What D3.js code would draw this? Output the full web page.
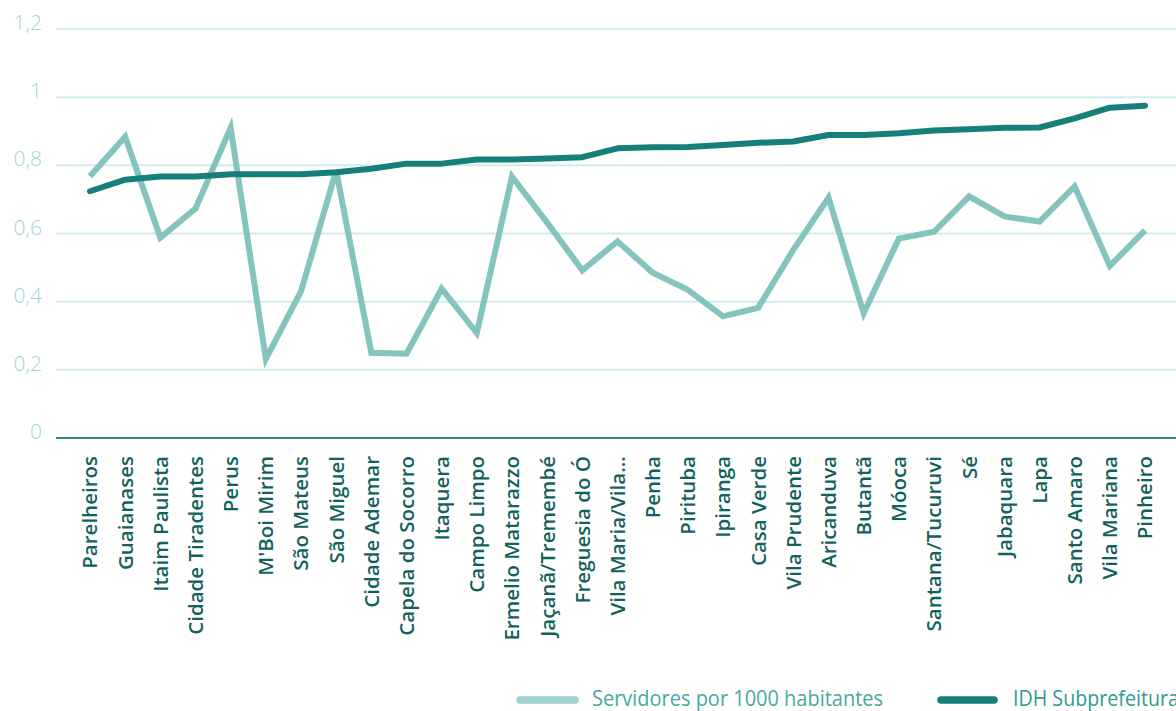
<!DOCTYPE html>
<html>
<head>
<meta charset="utf-8">
<script src="https://cdn.jsdelivr.net/npm/d3@7"></script>
<style>
  html, body { margin: 0; padding: 0; background: #ffffff; overflow: hidden; }
  svg { display: block; }
</style>
</head>
<body>
<div id="chart"></div>
<script>
// Subprefeituras, ordered by IDH
const categories = [
  'Parelheiros', 'Guaianases', 'Itaim Paulista', 'Cidade Tiradentes', 'Perus',
  "M'Boi Mirim", 'São Mateus', 'São Miguel', 'Cidade Ademar', 'Capela do Socorro',
  'Itaquera', 'Campo Limpo', 'Ermelio Matarazzo', 'Jaçanã/Tremembé', 'Freguesia do Ó',
  'Vila Maria/Vila...', 'Penha', 'Pirituba', 'Ipiranga', 'Casa Verde',
  'Vila Prudente', 'Aricanduva', 'Butantã', 'Móoca', 'Santana/Tucuruvi',
  'Sé', 'Jabaquara', 'Lapa', 'Santo Amaro', 'Vila Mariana', 'Pinheiro'
];

const servidores = [
  0.768, 0.884, 0.588, 0.673, 0.910,
  0.232, 0.430, 0.785, 0.250, 0.247,
  0.438, 0.308, 0.767, 0.632, 0.492,
  0.577, 0.485, 0.435, 0.357, 0.382,
  0.552, 0.705, 0.366, 0.585, 0.605,
  0.709, 0.650, 0.635, 0.738, 0.505, 0.609
];

const idh = [
  0.724, 0.758, 0.767, 0.767, 0.774,
  0.774, 0.774, 0.780, 0.790, 0.805,
  0.805, 0.817, 0.817, 0.820, 0.824,
  0.850, 0.853, 0.854, 0.860, 0.866,
  0.870, 0.889, 0.889, 0.894, 0.902,
  0.906, 0.910, 0.911, 0.938, 0.969, 0.975
];

const yTicks = [0, 0.2, 0.4, 0.6, 0.8, 1, 1.2];

const seriesNames = ['Servidores por 1000 habitantes', 'IDH Subprefeitura'];

const width = 1176;
const height = 711;

const svg = d3.select('#chart')
  .append('svg')
  .attr('width', width)
  .attr('height', height);

const gridLeft = 56;
const x = d3.scalePoint()
  .domain(categories)
  .range([90, 1145]);

const y = d3.scaleLinear()
  .domain([0, 1.2])
  .range([438, 29]);

const fmt = v => String(v).replace('.', ',');

// Gridlines
svg.append('g')
  .selectAll('line')
  .data(yTicks.filter(t => t !== 0))
  .enter()
  .append('line')
  .attr('x1', gridLeft)
  .attr('x2', width)
  .attr('y1', d => y(d))
  .attr('y2', d => y(d))
  .attr('stroke', '#d2eced')
  .attr('stroke-width', 2);

// Baseline
svg.append('line')
  .attr('x1', gridLeft)
  .attr('x2', width)
  .attr('y1', y(0))
  .attr('y2', y(0))
  .attr('stroke', '#2f8d88')
  .attr('stroke-width', 2);

// Y labels
svg.append('g')
  .selectAll('text')
  .data(yTicks)
  .enter()
  .append('text')
  .attr('x', 42)
  .attr('y', d => y(d) + 1)
  .attr('text-anchor', 'end')
  .style('font-family', '"Open Sans", "Noto Sans", sans-serif')
  .style('font-size', '21px')
  .style('font-weight', 300)
  .style('fill', '#a3d4d5')
  .text(d => fmt(d));

// X labels
svg.append('g')
  .selectAll('text')
  .data(categories)
  .enter()
  .append('text')
  .attr('transform', d => `translate(${x(d)},456) rotate(-90)`)
  .attr('text-anchor', 'end')
  .attr('dy', '0.36em')
  .style('font-family', '"Open Sans", "Noto Sans", sans-serif')
  .style('font-size', '20.5px')
  .style('font-weight', 600)
  .style('fill', '#11625c')
  .text(d => d);

// Lines
const line = d3.line()
  .x((d, i) => x(categories[i]))
  .y(d => y(d));

svg.append('path')
  .datum(servidores)
  .attr('d', line)
  .attr('fill', 'none')
  .attr('stroke', '#84c3be')
  .attr('stroke-width', 6)
  .attr('stroke-linejoin', 'miter');

svg.append('path')
  .datum(idh)
  .attr('d', line)
  .attr('fill', 'none')
  .attr('stroke', '#167f79')
  .attr('stroke-width', 6)
  .attr('stroke-linecap', 'round')
  .attr('stroke-linejoin', 'round');

// Legend
const legend = [
  { name: seriesNames[0], line: '#a1d0d3', text: '#46a9a2', x1: 520, x2: 575, tx: 592, len: 291 },
  { name: seriesNames[1], line: '#167f79', text: '#2f9a93', x1: 941, x2: 994, tx: 1013, len: 166 }
];

const lg = svg.append('g');
legend.forEach(d => {
  lg.append('line')
    .attr('x1', d.x1)
    .attr('x2', d.x2)
    .attr('y1', 700)
    .attr('y2', 700)
    .attr('stroke', d.line)
    .attr('stroke-width', 7.5)
    .attr('stroke-linecap', 'round');

  lg.append('text')
    .attr('x', d.tx)
    .attr('y', 706)
    .attr('textLength', d.len)
    .attr('lengthAdjust', 'spacingAndGlyphs')
    .style('font-family', '"Open Sans", "Noto Sans", sans-serif')
    .style('font-size', '22px')
    .style('fill', d.text)
    .text(d.name);
});
</script>
</body>
</html>
